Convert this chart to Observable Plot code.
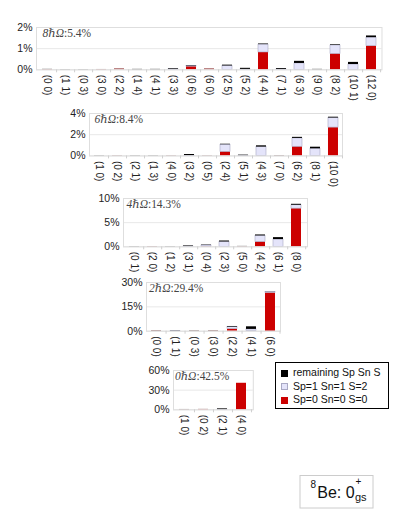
<!DOCTYPE html>
<html><head><meta charset="utf-8">
<script src="https://cdn.jsdelivr.net/npm/d3@7"></script>
<script src="https://cdn.jsdelivr.net/npm/@observablehq/plot@0.6"></script>
<style>
body{margin:0;background:#fff;font-family:"Liberation Sans",Arial,sans-serif;}
#root{position:relative;width:407px;height:527px;overflow:hidden;background:#fff;}
.panel{position:absolute;}
#legend{position:absolute;left:275px;top:362px;width:112px;height:45px;border:1px solid #000;background:#fff;font-size:10.5px;color:#111;}
#legend .row{position:absolute;left:5px;height:12px;line-height:12px;white-space:nowrap;}
#legend .sw{display:inline-block;width:7px;height:7px;margin-right:5px;vertical-align:-0.5px;box-sizing:border-box;}
</style></head><body><div id="root"><div id="legend"></div></div>
<script>
// ---- data ----
const seriesNames = ["Sp=0 Sn=0 S=0", "Sp=1 Sn=1 S=2", "remaining Sp Sn S"];
const seriesColors = ["#cc0000", "#e4e4fa", "#000000"];

const shellLabels = ["8ℏΩ", "6ℏΩ", "4ℏΩ", "2ℏΩ", "0ℏΩ"];
const shellPercents = ["5.4%", "8.4%", "14.3%", "29.4%", "42.5%"];

const cats8 = ["(0 0)","(1 1)","(0 3)","(3 0)","(2 2)","(1 4)","(4 1)","(3 3)","(0 6)","(6 0)","(2 5)","(5 2)","(4 4)","(7 1)","(6 3)","(9 0)","(8 2)","(10 1)","(12 0)"];
const red8 = [0.01,0,0,0.01,0.03,0,0,0,0.15,0.03,0,0,0.82,0,0,0,0.75,0,1.12];
const lav8 = [0,0,0,0,0,0,0,0.02,0.03,0,0.18,0.02,0.37,0.02,0.3,0,0.4,0.25,0.4];
const rem8 = [0.01,0.01,0.01,0.005,0.01,0.02,0.02,0.03,0.02,0.01,0.04,0.05,0.03,0.04,0.1,0.02,0.03,0.1,0.08];
const yTicks8 = [0, 1, 2];

const cats6 = ["(1 0)","(0 2)","(2 1)","(1 3)","(4 0)","(3 2)","(0 5)","(2 4)","(5 1)","(4 3)","(7 0)","(6 2)","(8 1)","(10 0)"];
const red6 = [0,0.01,0,0,0.01,0,0.01,0.38,0,0,0.01,0.86,0,2.67];
const lav6 = [0,0,0,0,0,0.03,0,0.67,0.02,0.83,0,0.79,0.67,0.9];
const rem6 = [0.02,0.01,0.02,0.02,0.01,0.1,0.01,0.05,0.05,0.12,0.02,0.1,0.15,0.08];
const yTicks6 = [0, 2, 4];

const cats4 = ["(0 1)","(2 0)","(1 2)","(3 1)","(0 4)","(2 3)","(5 0)","(4 2)","(6 1)","(8 0)"];
const red4 = [0,0.03,0,0,0.05,0,0.03,1.0,0,7.9];
const lav4 = [0,0,0,0.05,0.22,1.0,0,1.25,1.5,0.7];
const rem4 = [0.05,0.03,0.05,0.12,0.08,0.2,0.05,0.2,0.4,0.2];
const yTicks4 = [0, 5, 10];

const cats2 = ["(0 0)","(1 1)","(0 3)","(3 0)","(2 2)","(4 1)","(6 0)"];
const red2 = [0.1,0,0.05,0.1,1.3,0,23.6];
const lav2 = [0,0.05,0,0,1.2,1.1,0.5];
const rem2 = [0.15,0.15,0.15,0.15,0.4,1.6,0.1];
const yTicks2 = [0, 15, 30];

const cats0 = ["(1 0)","(0 2)","(2 1)","(4 0)"];
const red0 = [0.2,0.5,0,40.5];
const lav0 = [0,0,0.2,0];
const rem0 = [0.3,0.1,1.2,0];
const yTicks0 = [0, 30, 60];

// ---- layout (frame edges in page pixels) ----
const panels = [
  {cats: cats8, red: red8, lav: lav8, rem: rem8, ticks: yTicks8, L: 36,    R: 381.5, T: 26.7,  B: 69,    tdx: 6.5},
  {cats: cats6, red: red6, lav: lav6, rem: rem6, ticks: yTicks6, L: 89.3,  R: 342.3, T: 113.3, B: 155.7, tdx: 5.5},
  {cats: cats4, red: red4, lav: lav4, rem: rem4, ticks: yTicks4, L: 122.5, R: 306.5, T: 197.7, B: 246,   tdx: 3.5},
  {cats: cats2, red: red2, lav: lav2, rem: rem2, ticks: yTicks2, L: 146,   R: 280,   T: 282,   B: 330.7, tdx: 3},
  {cats: cats0, red: red0, lav: lav0, rem: rem0, ticks: yTicks0, L: 172.7, R: 252.5, T: 370,   B: 409.3, tdx: 2}
];

const root = document.getElementById("root");
const mL = 32, mR = 6, mT = 10, mB = 36;

panels.forEach((p, k) => {
  const rows = [];
  p.cats.forEach((c, i) => {
    rows.push({cat: c, s: 0, value: p.red[i]});
    rows.push({cat: c, s: 1, value: p.lav[i]});
    rows.push({cat: c, s: 2, value: p.rem[i]});
  });
  const fw = p.R - p.L, fh = p.B - p.T;
  const step = fw / p.cats.length;
  const ymax = p.ticks[p.ticks.length - 1];
  const chart = Plot.plot({
    width: fw + mL + mR,
    height: fh + mT + mB,
    marginLeft: mL, marginRight: mR, marginTop: mT, marginBottom: mB,
    style: {background: "transparent", overflow: "visible", fontFamily: "'Liberation Sans', Arial, sans-serif", fontSize: "10px", color: "#222"},
    x: {domain: p.cats, paddingInner: 0.46, paddingOuter: 0.23, align: 0.5, label: null},
    y: {domain: [0, ymax], label: null},
    marks: [
      Plot.gridY(p.ticks, {stroke: "#e8e8e8", strokeOpacity: 1}),
      Plot.barY(rows, {
        x: "cat", y: "value",
        fill: d => seriesColors[d.s],
        stroke: d => d.s === 1 ? "#a9a9c4" : "none",
        strokeWidth: 0.6
      }),
      Plot.frame({stroke: "#dedede"}),
      Plot.axisY(p.ticks, {tickSize: 0, tickPadding: 4, fontSize: 10.5, label: null, tickFormat: d => d + "%"}),
      Plot.axisX({tickRotate: 90, tickSize: 0, tickPadding: 5, fontSize: 10, label: null}),
      Plot.axisX({tickSize: 3, fill: "none", stroke: "#cfcfcf", dx: step / 2, label: null})
    ]
  });
  chart.classList.add("panel");
  chart.style.left = (p.L - mL) + "px";
  chart.style.top = (p.T - mT) + "px";
  const t = d3.select(chart).append("text")
    .attr("x", mL + p.tdx).attr("y", mT + 9.8)
    .attr("text-anchor", "start")
    .attr("font-family", "'Liberation Serif', 'DejaVu Serif', serif")
    .attr("font-size", 11.5).attr("fill", "#444");
  t.append("tspan").attr("font-style", "italic").text(shellLabels[k]);
  t.append("tspan").text(":" + shellPercents[k]);
  root.appendChild(chart);
});

// ---- legend ----
const legend = d3.select("#legend");
const legendOrder = [2, 1, 0];
legendOrder.forEach((s, j) => {
  const row = legend.append("div").attr("class", "row").style("top", (3 + j * 13.5) + "px");
  row.append("span").attr("class", "sw")
    .style("background", seriesColors[s])
    .style("border", s === 1 ? "0.6px solid #a9a9c4" : "none");
  row.append("span").text(seriesNames[s]);
});

// ---- nucleus label ----
const be = d3.select("#root").append("svg")
  .attr("width", 76).attr("height", 36)
  .style("position", "absolute").style("left", "299px").style("top", "475px")
  .attr("font-family", "'Liberation Sans', Arial, sans-serif");
be.append("rect").attr("x", 1).attr("y", 0.5).attr("width", 73).attr("height", 32.5)
  .attr("fill", "#fff").attr("stroke", "#cccccc");
be.append("text").attr("x", 11.5).attr("y", 13).attr("font-size", 10).attr("fill", "#111").text("8");
be.append("text").attr("x", 18.3).attr("y", 23.3).attr("font-size", 16).attr("fill", "#111").text("Be: 0");
be.append("text").attr("x", 56.5).attr("y", 10).attr("font-size", 10).attr("fill", "#111").text("+");
be.append("text").attr("x", 56).attr("y", 25.8).attr("font-size", 11).attr("fill", "#111").text("gs");
</script>
</body></html>
